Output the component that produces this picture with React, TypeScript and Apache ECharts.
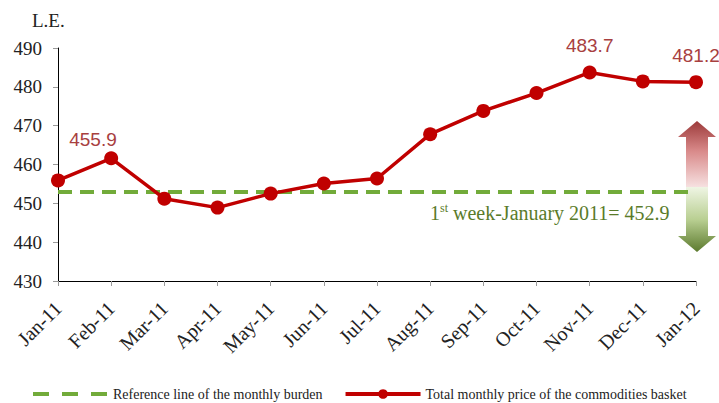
import React, { useEffect, useRef } from 'react';
import * as echarts from 'echarts';

const categories = ['Jan-11', 'Feb-11', 'Mar-11', 'Apr-11', 'May-11', 'Jun-11', 'Jul-11', 'Aug-11', 'Sep-11', 'Oct-11', 'Nov-11', 'Dec-11', 'Jan-12'];
const basketPrices = [455.9, 461.6, 451.2, 448.9, 452.5, 455.1, 456.4, 467.8, 473.8, 478.4, 483.7, 481.4, 481.2];
const referenceValue = 452.9;
const labelledIndices = [0, 10, 12];
const yMin = 430;
const yMax = 490;
const yStep = 10;

const seriesNames = ['Reference line of the monthly burden', 'Total monthly price of the commodities basket'];

const SERIF = "'Liberation Serif', 'Times New Roman', serif";
const SANS = "'Liberation Sans', Arial, sans-serif";

const labelOffsets: Record<number, number[]> = { 0: [35, -19], 10: [0, -5], 12: [0, -5] };

export default function App() {
  const ref = useRef<HTMLDivElement>(null);
  useEffect(() => {
    document.body.style.margin = '0';
    if (!ref.current) return;
    const chart = echarts.init(ref.current, undefined, { renderer: 'svg' });
    const basketData = basketPrices.map((v, i) =>
      labelledIndices.includes(i)
        ? {
            value: v,
            label: {
              show: true,
              position: 'top',
              offset: labelOffsets[i],
              formatter: (p: any) => p.value.toFixed(1),
              color: '#A8403F',
              fontFamily: SANS,
              fontSize: 19,
            },
          }
        : v
    );
    const refData = categories.map(() => referenceValue);
    chart.setOption({
      animation: false,
      backgroundColor: '#fff',
      grid: { left: 58, right: 23, top: 48, bottom: 122 },
      legend: {
        top: 382,
        left: 26,
        itemWidth: 75,
        itemHeight: 12,
        itemGap: 21,
        textStyle: { fontFamily: SERIF, fontSize: 14, color: '#222' },
        data: [
          {
            name: seriesNames[0],
            itemStyle: { opacity: 0, color: 'rgba(0,0,0,0)', borderWidth: 0 },
            lineStyle: { type: [16, 13], width: 4, color: '#72AB3A' },
          },
          {
            name: seriesNames[1],
            lineStyle: { width: 4, color: '#C00000' },
          },
        ],
      },
      xAxis: {
        type: 'category',
        data: categories,
        boundaryGap: false,
        axisLine: { lineStyle: { color: '#000', width: 1 } },
        axisTick: { show: true, length: 5, lineStyle: { color: '#999' } },
        axisLabel: { rotate: 45, margin: 24, fontFamily: SERIF, fontSize: 20, color: '#222', interval: 0 },
        splitLine: { show: false },
      },
      yAxis: {
        type: 'value',
        min: yMin,
        max: yMax,
        interval: yStep,
        axisLine: { show: true, lineStyle: { color: '#000', width: 1 } },
        axisTick: { show: true, length: 5, lineStyle: { color: '#999' } },
        axisLabel: { margin: 16, fontFamily: SERIF, fontSize: 19, color: '#222' },
        splitLine: { show: false },
      },
      series: [
        {
          name: seriesNames[0],
          type: 'line',
          data: refData,
          symbol: 'none',
          lineStyle: { color: '#72AB3A', width: 4, type: [14, 8] },
          itemStyle: { color: 'rgba(0,0,0,0)' },
          z: 2,
        },
        {
          name: seriesNames[1],
          type: 'line',
          data: basketData,
          symbol: 'circle',
          symbolSize: 14,
          lineStyle: { color: '#C00000', width: 3.5 },
          itemStyle: { color: '#C00000' },
          z: 3,
        },
      ],
      graphic: [
        {
          type: 'text',
          x: 32,
          y: 20,
          style: { text: 'L.E.', fontFamily: SERIF, fontSize: 19, fill: '#222', verticalAlign: 'middle' },
        },
        {
          type: 'polygon',
          shape: {
            points: [
              [697, 121], [716, 137], [708, 137], [708, 188], [686, 188], [686, 137], [678, 137],
            ],
          },
          style: {
            fill: {
              type: 'linear', x: 0, y: 0, x2: 0, y2: 1,
              colorStops: [
                { offset: 0, color: '#9C3A3A' },
                { offset: 0.45, color: '#D98A8A' },
                { offset: 1, color: '#F7E3E3' },
              ],
            },
          },
        },
        {
          type: 'polygon',
          shape: {
            points: [
              [686, 187], [708, 187], [708, 236], [716, 236], [697, 252], [678, 236], [686, 236],
            ],
          },
          style: {
            fill: {
              type: 'linear', x: 0, y: 0, x2: 0, y2: 1,
              colorStops: [
                { offset: 0, color: '#EFF5E4' },
                { offset: 0.5, color: '#B9CF92' },
                { offset: 1, color: '#5C7A2E' },
              ],
            },
          },
        },
        {
          type: 'text',
          x: 430,
          y: 213,
          style: {
            text: '{n|1}{s|st}{n| week-January 2011= 452.9}',
            verticalAlign: 'middle',
            rich: {
              n: { fontFamily: SERIF, fontSize: 20, fill: '#5A7B2A', lineHeight: 22 },
              s: { fontFamily: SERIF, fontSize: 12, fill: '#5A7B2A', lineHeight: 12, verticalAlign: 'top' },
            },
          },
        },
      ],
    });
    return () => chart.dispose();
  }, []);
  return <div ref={ref} style={{ width: 719, height: 403, position: 'absolute', left: 0, top: 0 }} />;
}
